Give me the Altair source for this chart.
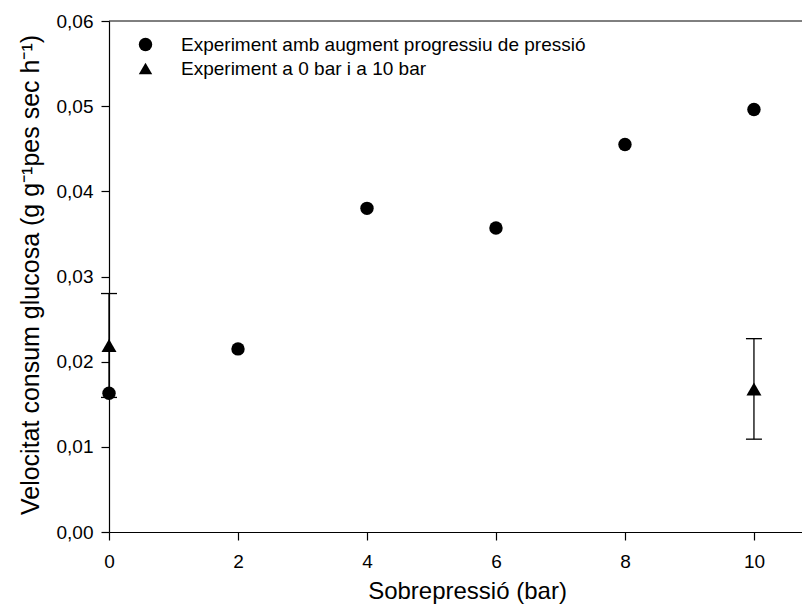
import altair as alt
import pandas as pd

# ---- data ----
series_names = ["Experiment amb augment progressiu de pressió",
                "Experiment a 0 bar i a 10 bar"]
x_prog = [0, 2, 4, 6, 8, 10]
y_prog = [0.0163, 0.0215, 0.0380, 0.0357, 0.0455, 0.0496]
x_tri = [0, 10]
y_tri = [0.0219, 0.0168]
err_tri = [0.0061, 0.0059]
x_ticks = [0, 2, 4, 6, 8, 10]
y_ticks = [0.00, 0.01, 0.02, 0.03, 0.04, 0.05, 0.06]
x_title = "Sobrepressió (bar)"
y_title = "Velocitat consum glucosa (g g\u207b\u00b9pes sec h\u207b\u00b9)"

df_prog = pd.DataFrame({"x": x_prog, "y": y_prog, "series": series_names[0]})
df_tri = pd.DataFrame({"x": x_tri, "y": y_tri, "series": series_names[1],
                       "lo": [m - e for m, e in zip(y_tri, err_tri)],
                       "hi": [m + e for m, e in zip(y_tri, err_tri)]})
df_top = pd.DataFrame({"y": [y_ticks[-1]]})

W, H = 693, 511
FONT = "Liberation Sans"

xscale = alt.Scale(domain=[0, 10.745], nice=False, zero=False)
yscale = alt.Scale(domain=[0, 0.06], nice=False, zero=True)

xaxis = alt.Axis(values=x_ticks, title=x_title, labelFlush=False, labelPadding=12,
                 titleX=358, titleY=66, titleBaseline="alphabetic", titleAlign="center")
yaxis = alt.Axis(values=y_ticks, title=y_title, labelFlush=False, labelPadding=8,
                 labelExpr="replace(format(datum.value, '.2f'), '.', ',')",
                 titleAngle=-90, titleX=-71, titleY=H / 2 - 2, titleAlign="center",
                 titleBaseline="alphabetic", titleFontSize=25)

shape_scale = alt.Scale(domain=series_names, range=["circle", "triangle-up"])
legend = alt.Legend(orient="none", legendX=27, legendY=14, title=None,
                    labelFontSize=19, labelFont=FONT, labelColor="black",
                    symbolSize=180, symbolFillColor="black", symbolStrokeColor="black",
                    symbolStrokeWidth=0, symbolOpacity=1, labelOffset=26,
                    rowPadding=4, padding=0, labelLimit=800)

X = alt.X("x:Q", scale=xscale, axis=xaxis)

err_rule = alt.Chart(df_tri).mark_rule(color="black", strokeWidth=1.3).encode(
    x=X, y=alt.Y("lo:Q", scale=yscale, axis=yaxis), y2="hi:Q")
cap_lo = alt.Chart(df_tri).mark_tick(color="black", orient="horizontal", size=16,
                                     thickness=1.3, opacity=1).encode(
    x=X, y=alt.Y("lo:Q", scale=yscale, axis=yaxis))
cap_hi = alt.Chart(df_tri).mark_tick(color="black", orient="horizontal", size=16,
                                     thickness=1.3, opacity=1).encode(
    x=X, y=alt.Y("hi:Q", scale=yscale, axis=yaxis))

circles = alt.Chart(df_prog).mark_point(filled=True, size=180, color="black", opacity=1).encode(
    x=X, y=alt.Y("y:Q", scale=yscale, axis=yaxis),
    shape=alt.Shape("series:N", scale=shape_scale, legend=legend))
triangles = alt.Chart(df_tri).mark_point(filled=True, size=225, color="black", opacity=1).encode(
    x=X, y=alt.Y("y:Q", scale=yscale, axis=yaxis),
    shape=alt.Shape("series:N", scale=shape_scale, legend=legend))

top_line = alt.Chart(df_top).mark_rule(color="black", strokeWidth=1).encode(
    y=alt.Y("y:Q", scale=yscale, axis=yaxis), x=alt.value(0), x2=alt.value(W))

chart = alt.layer(top_line, err_rule, cap_lo, cap_hi, circles, triangles).properties(
    width=W, height=H,
    padding={"left": 101, "top": 13, "right": 0, "bottom": 72},
    autosize=alt.AutoSizeParams(type="none"),
).configure_view(stroke=None).configure_axis(
    grid=False, domainColor="black", tickColor="black", labelColor="black",
    titleColor="black", labelFont=FONT, titleFont=FONT, labelFontSize=19,
    titleFontSize=24, titleFontWeight="normal", tickSize=8, domainWidth=1.2,
    tickWidth=1.2, labelOverlap=False,
)

chart.save("out.html", embed_options={"renderer": "svg", "actions": False})
